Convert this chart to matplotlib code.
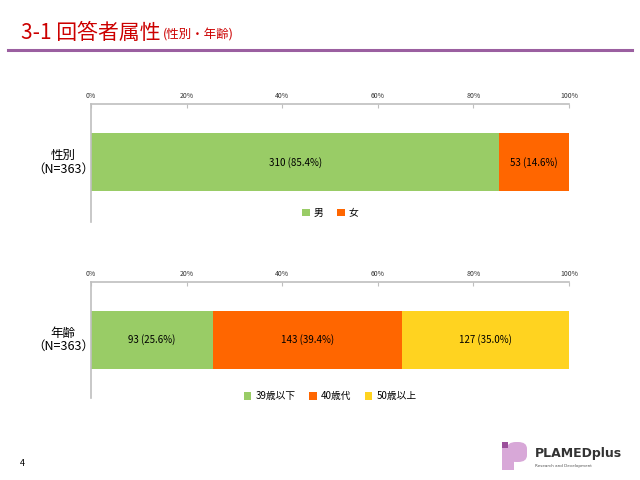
import numpy as np
import matplotlib.pyplot as plt
from matplotlib.patches import Rectangle, FancyBboxPatch

plt.rcParams['font.family'] = ['Noto Sans CJK JP', 'DejaVu Sans']

# data
sex_labels = ["男", "女"]
sex_counts = [310, 53]
sex_pcts = [85.4, 14.6]

age_labels = ["39歳以下", "40歳代", "50歳以上"]
age_counts = [93, 143, 127]
age_pcts = [25.6, 39.4, 35.0]

green = "#99CC66"
orange = "#FF6600"
yellow = "#FFD320"
spine_col = "#BFBFBF"


def stacked_bar(ax, title, labels, counts, pcts, colors, ylim, legend_y):
    left = 0
    for lab, c, p, col in zip(labels, counts, pcts, colors):
        ax.barh(0, p, left=left, height=1.0, color=col, label=lab)
        ax.text(left + p / 2, 0, "%d (%.1f%%)" % (c, p), ha="center", va="center",
                fontsize=7, color="black")
        left += p
    ax.set_xlim(0, 100)
    ax.set_ylim(*ylim)
    ax.set_xticks(np.arange(0, 101, 20))
    ax.set_xticklabels(["%d%%" % t for t in range(0, 101, 20)])
    ax.xaxis.tick_top()
    ax.tick_params(axis="x", direction="in", length=3, color=spine_col,
                   labelsize=5, pad=3, labelcolor="#333333")
    ax.set_yticks([])
    for s in ["right", "bottom"]:
        ax.spines[s].set_visible(False)
    for s in ["top", "left"]:
        ax.spines[s].set_color(spine_col)
        ax.spines[s].set_linewidth(1.2)
    # category label left of the bar
    yc = (0 - ylim[0]) / (ylim[1] - ylim[0])
    ax.text(0.006, yc, title, transform=ax.transAxes, ha="right", va="center",
            multialignment="center", fontsize=9, linespacing=1.05)
    ax.legend(loc="center", bbox_to_anchor=(0.5, legend_y), ncol=len(labels),
              frameon=False, fontsize=7, handlelength=0.8, handleheight=0.8,
              handletextpad=0.4, columnspacing=1.4)


fig = plt.figure(figsize=(6.4, 4.8), dpi=100)

ax1 = fig.add_axes([91 / 640, 1 - 222 / 480, 478 / 640, 118 / 480])
stacked_bar(ax1, "性別\n（N=363）", sex_labels, sex_counts, sex_pcts,
            [green, orange], (-1.03, 1.0), 0.075)

ax2 = fig.add_axes([91 / 640, 1 - 398 / 480, 478 / 640, 116 / 480])
stacked_bar(ax2, "年齢\n（N=363）", age_labels, age_counts, age_pcts,
            [green, orange, yellow], (-1.0, 1.0), 0.015)

# header
fig.text(21 / 640, 1 - 33 / 480, "3-1 回答者属性", color="#CC0000", fontsize=15,
         va="center", ha="left")
fig.text(163 / 640, 1 - 35 / 480, "(性別・年齢)", color="#CC0000", fontsize=9,
         va="center", ha="left")
fig.add_artist(plt.Line2D([8 / 640, 632 / 640], [1 - 50 / 480, 1 - 50 / 480],
                          color="#9B5FA0", linewidth=2.2))

# page number
fig.text(20 / 640, 1 - 463 / 480, "4", fontsize=6.5, va="center", ha="left")

# logo
lc = "#D8A8D8"
fig.add_artist(FancyBboxPatch((507 / 640, 1 - 462 / 480), 20 / 640, 20 / 480,
                              boxstyle="round,pad=0,rounding_size=0.014",
                              transform=fig.transFigure, color=lc, lw=0))
fig.add_artist(Rectangle((502 / 640, 1 - 470 / 480), 12 / 640, 23 / 480,
                         transform=fig.transFigure, color=lc, lw=0))
fig.add_artist(Rectangle((502 / 640, 1 - 448 / 480), 6 / 640, 6 / 480,
                         transform=fig.transFigure, color="#9B4F9B", lw=0))
fig.text(535 / 640, 1 - 454 / 480, "PLAMEDplus", fontsize=9, fontweight="bold",
         color="#333333", va="center", ha="left", family="DejaVu Sans")
fig.text(535 / 640, 1 - 466 / 480, "Research and Development", fontsize=3,
         color="#555555", va="center", ha="left", family="DejaVu Sans")

fig.savefig("out.png", dpi=100)
